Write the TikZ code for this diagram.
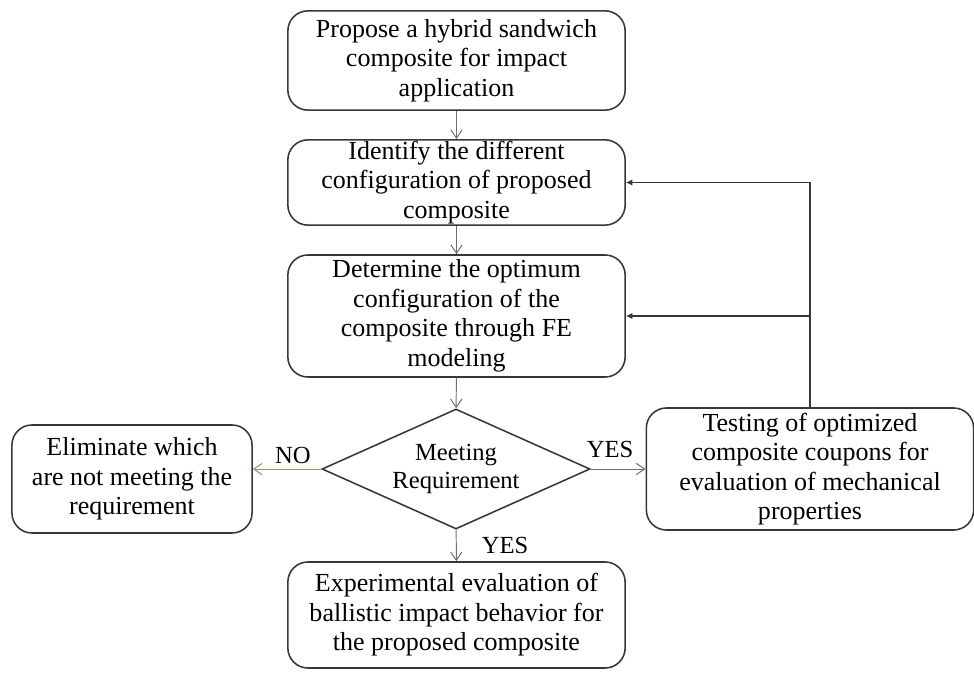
\documentclass[tikz,border=0pt]{standalone}
\usepackage{fontspec}
\setmainfont{Liberation Serif}
\usepackage{tikz}
\usetikzlibrary{arrows.meta, positioning, shapes.geometric, calc}
\definecolor{boxline}{RGB}{55, 55, 55}
\definecolor{flowgray}{RGB}{110, 110, 110}
\definecolor{nogray}{RGB}{150, 145, 110}

\begin{document}
\begin{tikzpicture}[x=0.025cm, y=-0.025cm,
        bx/.style={draw=boxline, line width=1.1pt, rounded corners=0.5cm,
                   align=center, inner sep=0pt, minimum width=8.43cm,
                   font=\fontsize{18.5}{21}\selectfont},
        dec/.style={draw=boxline, line width=1.1pt, shape=diamond, aspect=2.2,
                    align=center, inner sep=0pt, minimum width=6.7cm,
                    minimum height=3cm, font=\fontsize{17.5}{20}\selectfont},
        lbl/.style={font=\fontsize{17.5}{20}\selectfont},
        fl/.style={draw=flowgray, line width=0.7pt,
                   -{Straight Barb[length=6pt, width=8pt]}},
        fb/.style={draw=boxline, line width=1.3pt,
                   -{Latex[length=4.5pt, width=4.5pt]}}]
        \useasboundingbox (0,0) rectangle (974,682);
        % main column
        \node[bx, minimum height=2.48cm] (prop) at (456.5, 60.5)
          {Propose a hybrid sandwich\\composite for impact\\application};
        \node[bx, minimum height=2.13cm] (ident) at (456.5,182.5)
          {Identify the different\\configuration of proposed\\composite};
        \node[bx, minimum height=3.05cm] (opt) at (456.5,316)
          {Determine the optimum\\configuration of the\\composite through FE\\modeling};
        \node[dec] (meet) at (456,469) {Meeting\\Requirement};
        \node[bx, minimum height=2.65cm] (ball) at (456.5,615)
          {Experimental evaluation of\\ballistic impact behavior for\\the proposed composite};
        % side boxes
        \node[bx, minimum width=6.0cm, minimum height=2.7cm] (elim) at (132,479)
          {Eliminate which\\are not meeting the\\requirement};
        \node[bx, minimum width=8.18cm, minimum height=3.05cm] (test) at (810,469)
          {Testing of optimized\\composite coupons for\\evaluation of mechanical\\properties};
        % labels
        \node[lbl] (no) at (293,455) {NO};
        \node[lbl] (yr) at (610,449) {YES};
        \node[lbl] (yd) at (505,545) {YES};
        % connectors
        \draw[fl] (prop) -- (ident);
        \draw[fl] (ident) -- (opt);
        \draw[fl] (opt) -- (meet);
        \draw[fl] (meet) -- (ball);
        \draw[fl, draw=nogray] (meet.west) -- (meet.west -| elim.east);
        \draw[fl] (meet.east) -- (meet.east -| test.west);
        \draw[fb] (test.north) |- (ident.east);
        \draw[fb] (test.north |- opt.east) -- (opt.east);
      \end{tikzpicture}
\end{document}
